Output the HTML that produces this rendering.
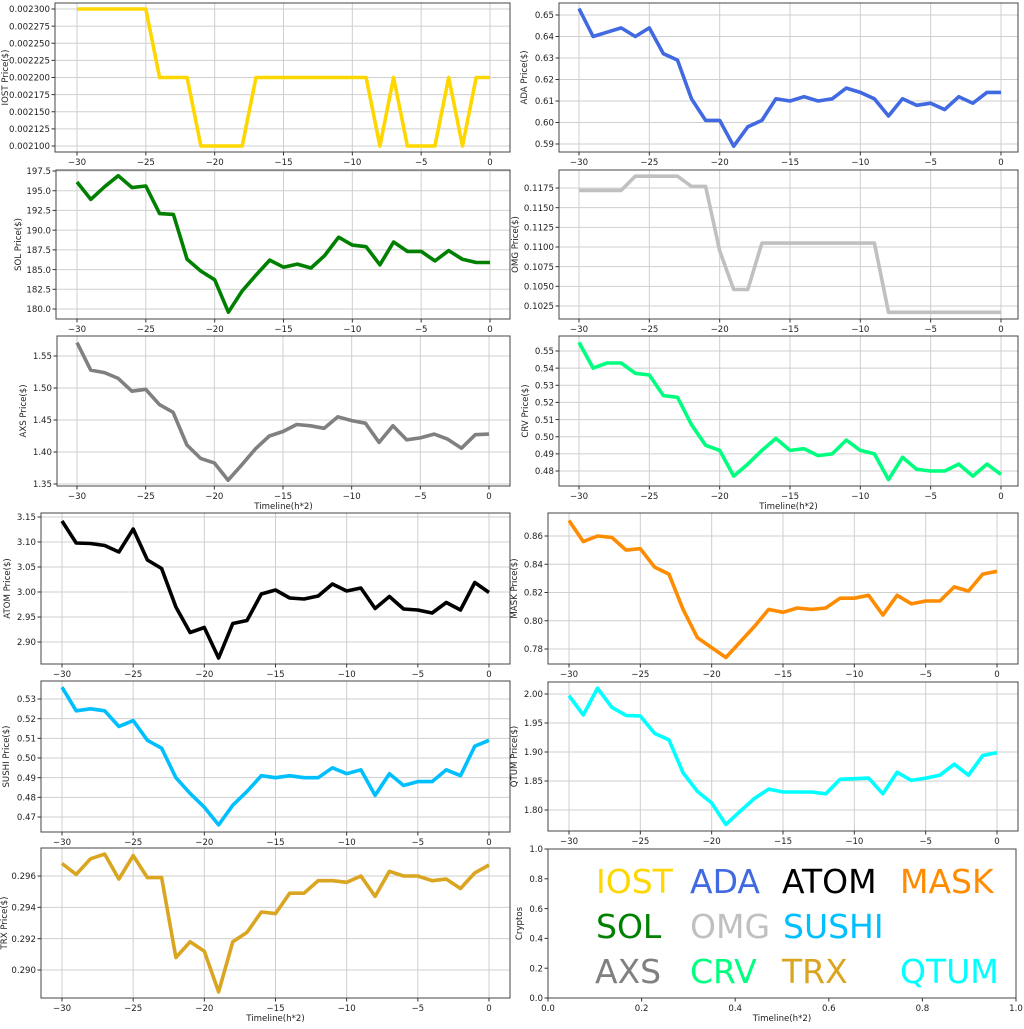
<!DOCTYPE html>
<html><head><meta charset="utf-8">
<style>
html,body{margin:0;padding:0;background:#fff;}
svg text{font-family:"DejaVu Sans","Liberation Sans",sans-serif;}
</style></head>
<body>
<svg id="s" width="1024" height="1024" xmlns="http://www.w3.org/2000/svg"></svg>
<script>
var FS=8.6;
var P=[
{n:'IOST',c:'#FFD700',L:55,R:510,T:3,B:152,x0:77,x1:490,v1:0.0023,p1:9,v2:0.0021,p2:146,ticks:[0.0021,0.002125,0.00215,0.002175,0.0022,0.002225,0.00225,0.002275,0.0023],fd:6,yl:'IOST Price($)',ylx:4,
d:[2300,2300,2300,2300,2300,2300,2200,2200,2200,2100,2100,2100,2100,2200,2200,2200,2200,2200,2200,2200,2200,2200,2100,2200,2100,2100,2100,2200,2100,2200,2200].map(function(v){return v/1e6})},
{n:'ADA',c:'#4169E1',L:559,R:1018,T:3,B:152,x0:579,x1:1001,v1:0.65,p1:15,v2:0.59,p2:144,ticks:[0.59,0.60,0.61,0.62,0.63,0.64,0.65],fd:2,yl:'ADA  Price($)',ylx:523,
d:[.653,.640,.642,.644,.640,.644,.632,.629,.611,.601,.601,.589,.598,.601,.611,.610,.612,.610,.611,.616,.614,.611,.603,.611,.608,.609,.606,.612,.609,.614,.614]},
{n:'SOL',c:'#008000',L:56,R:510,T:170,B:319,x0:77,x1:490,v1:197.5,p1:171,v2:180,p2:309,ticks:[180,182.5,185,187.5,190,192.5,195,197.5],fd:1,yl:'SOL Price($)',ylx:17,
d:[196.1,193.9,195.5,196.9,195.4,195.6,192.1,192.0,186.3,184.8,183.7,179.6,182.3,184.3,186.2,185.3,185.7,185.2,186.8,189.1,188.1,187.9,185.6,188.5,187.3,187.3,186.1,187.4,186.3,185.9,185.9]},
{n:'OMG',c:'#C0C0C0',L:559,R:1018,T:170,B:319,x0:579,x1:1001,v1:0.1175,p1:188,v2:0.1025,p2:306,ticks:[0.1025,0.105,0.1075,0.11,0.1125,0.115,0.1175],fd:4,yl:'OMG  Price($)',ylx:514,
d:[.1172,.1172,.1172,.1172,.1190,.1190,.1190,.1190,.1177,.1177,.1095,.1046,.1046,.1105,.1105,.1105,.1105,.1105,.1105,.1105,.1105,.1105,.1017,.1017,.1017,.1017,.1017,.1017,.1017,.1017,.1017]},
{n:'AXS',c:'#808080',L:57,R:510,T:336,B:486,x0:77,x1:489,v1:1.55,p1:356,v2:1.35,p2:484,ticks:[1.35,1.40,1.45,1.50,1.55],fd:2,yl:'AXS Price($)',ylx:22,xl:'Timeline(h*2)',
d:[1.571,1.528,1.524,1.515,1.495,1.498,1.474,1.462,1.411,1.390,1.383,1.356,1.380,1.405,1.425,1.432,1.443,1.441,1.437,1.455,1.449,1.445,1.415,1.441,1.419,1.422,1.428,1.420,1.406,1.427,1.428]},
{n:'CRV',c:'#00FF7F',L:559,R:1018,T:336,B:486,x0:579,x1:1001,v1:0.55,p1:351,v2:0.48,p2:471,ticks:[.48,.49,.50,.51,.52,.53,.54,.55],fd:2,yl:'CRV  Price($)',ylx:524,xl:'Timeline(h*2)',
d:[.555,.540,.543,.543,.537,.536,.524,.523,.507,.495,.492,.477,.484,.492,.499,.492,.493,.489,.490,.498,.492,.490,.475,.488,.481,.480,.480,.484,.477,.484,.478]},
{n:'ATOM',c:'#000000',L:41,R:510,T:513,B:664,x0:62,x1:489,v1:3.15,p1:517,v2:2.90,p2:642,ticks:[2.90,2.95,3.00,3.05,3.10,3.15],fd:2,yl:'ATOM  Price($)',ylx:6,
d:[3.142,3.098,3.097,3.093,3.080,3.126,3.064,3.047,2.970,2.919,2.929,2.868,2.937,2.943,2.996,3.004,2.988,2.986,2.992,3.016,3.002,3.008,2.967,2.991,2.966,2.964,2.958,2.979,2.964,3.019,2.999]},
{n:'MASK',c:'#FF8C00',L:548,R:1018,T:513,B:664,x0:569,x1:997,v1:0.86,p1:536,v2:0.78,p2:649,ticks:[.78,.80,.82,.84,.86],fd:2,yl:'MASK  Price($)',ylx:513,
d:[.871,.856,.860,.859,.850,.851,.838,.833,.808,.788,.781,.774,.785,.796,.808,.806,.809,.808,.809,.816,.816,.818,.804,.818,.812,.814,.814,.824,.821,.833,.835]},
{n:'SUSHI',c:'#00BFFF',L:41,R:510,T:681,B:832,x0:62,x1:489,v1:0.53,p1:699,v2:0.47,p2:817,ticks:[.47,.48,.49,.50,.51,.52,.53],fd:2,yl:'SUSHI  Price($)',ylx:5,
d:[.536,.524,.525,.524,.516,.519,.509,.505,.490,.482,.475,.466,.476,.483,.491,.490,.491,.490,.490,.495,.492,.494,.481,.492,.486,.488,.488,.494,.491,.506,.509]},
{n:'QTUM',c:'#00FFFF',L:548,R:1018,T:682,B:831,x0:569,x1:997,v1:2.00,p1:694,v2:1.80,p2:810,ticks:[1.80,1.85,1.90,1.95,2.00],fd:2,yl:'QTUM Price($)',ylx:513,
d:[1.997,1.964,2.010,1.977,1.963,1.962,1.932,1.921,1.864,1.832,1.812,1.775,1.798,1.820,1.836,1.831,1.831,1.831,1.828,1.853,1.854,1.855,1.828,1.865,1.851,1.855,1.860,1.879,1.860,1.894,1.899]},
{n:'TRX',c:'#DAA520',L:41,R:510,T:848,B:998,x0:62,x1:489,v1:0.296,p1:876,v2:0.290,p2:970,ticks:[.290,.292,.294,.296],fd:3,yl:'TRX Price($)',ylx:3,xl:'Timeline(h*2)',
d:[.2968,.2961,.2971,.2974,.2958,.2973,.2959,.2959,.2908,.2918,.2912,.2886,.2918,.2924,.2937,.2936,.2949,.2949,.2957,.2957,.2956,.2960,.2947,.2963,.2960,.2960,.2957,.2958,.2952,.2962,.2967]}
];
var h='';
function fy(p,v){return p.p1+(v-p.v1)*(p.p2-p.p1)/(p.v2-p.v1);}
function fx(p,t){return p.x0+(t+30)*(p.x1-p.x0)/30;}
P.forEach(function(p){
  var g='';
  for(var t=-30;t<=0;t+=5){var x=fx(p,t);g+='<line x1="'+x+'" y1="'+p.T+'" x2="'+x+'" y2="'+p.B+'" stroke="#cfcfcf" stroke-width="1"/>';
    g+='<line x1="'+x+'" y1="'+p.B+'" x2="'+x+'" y2="'+(p.B+3.5)+'" stroke="#333"/>';
    g+='<text x="'+x+'" y="'+(p.B+13)+'" font-size="'+FS+'" text-anchor="middle" fill="#222">'+(t<0?'\u2212'+(-t):'0')+'</text>';}
  p.ticks.forEach(function(v){var y=fy(p,v);g+='<line x1="'+p.L+'" y1="'+y+'" x2="'+p.R+'" y2="'+y+'" stroke="#cfcfcf" stroke-width="1"/>';
    g+='<line x1="'+(p.L-3.5)+'" y1="'+y+'" x2="'+p.L+'" y2="'+y+'" stroke="#333"/>';
    g+='<text x="'+(p.L-5)+'" y="'+(y+3.2)+'" font-size="'+FS+'" text-anchor="end" fill="#222">'+v.toFixed(p.fd)+'</text>';});
  var pts=p.d.map(function(v,i){return fx(p,i-30).toFixed(1)+','+fy(p,v).toFixed(1)}).join(' ');
  g+='<polyline points="'+pts+'" fill="none" stroke="'+p.c+'" stroke-width="3.6" stroke-linejoin="round"/>';
  g+='<rect x="'+p.L+'" y="'+p.T+'" width="'+(p.R-p.L)+'" height="'+(p.B-p.T)+'" fill="none" stroke="#444" stroke-width="1"/>';
  var cy=(p.T+p.B)/2;
  g+='<text transform="translate('+(p.ylx+4)+','+cy+') rotate(-90)" font-size="'+FS+'" text-anchor="middle" fill="#222">'+p.yl+'</text>';
  if(p.xl)g+='<text x="'+((p.L+p.R)/2)+'" y="'+(p.B+23)+'" font-size="'+FS+'" text-anchor="middle" fill="#222">'+p.xl+'</text>';
  h+=g;
});
var L=548,R=1016,T=849,B=998,g='';
for(var i=0;i<=5;i++){var v=i/5,x=L+v*(R-L),y=B-v*(B-T);
 g+='<line x1="'+x+'" y1="'+B+'" x2="'+x+'" y2="'+(B+3.5)+'" stroke="#333"/><text x="'+x+'" y="'+(B+13)+'" font-size="'+FS+'" text-anchor="middle" fill="#222">'+v.toFixed(1)+'</text>';
 g+='<line x1="'+(L-3.5)+'" y1="'+y+'" x2="'+L+'" y2="'+y+'" stroke="#333"/><text x="'+(L-5)+'" y="'+(y+3.2)+'" font-size="'+FS+'" text-anchor="end" fill="#222">'+v.toFixed(1)+'</text>';}
g+='<rect x="'+L+'" y="'+T+'" width="'+(R-L)+'" height="'+(B-T)+'" fill="none" stroke="#444"/>';
g+='<text transform="translate(522,'+((T+B)/2)+') rotate(-90)" font-size="'+FS+'" text-anchor="middle" fill="#222">Cryptos</text>';
g+='<text x="'+((L+R)/2)+'" y="'+(B+23)+'" font-size="'+FS+'" text-anchor="middle" fill="#222">Timeline(h*2)</text>';
var W=[['IOST','#FFD700',596,893],['ADA','#4169E1',690,893],['ATOM','#000000',782,893],['MASK','#FF8C00',900,893],
['SOL','#008000',596,938],['OMG','#C0C0C0',690,938],['SUSHI','#00BFFF',783,938],
['AXS','#808080',595,983],['CRV','#00FF7F',690,983],['TRX','#DAA520',782,983],['QTUM','#00FFFF',900,983]];
W.forEach(function(w){g+='<text x="'+w[2]+'" y="'+w[3]+'" font-size="33" fill="'+w[1]+'">'+w[0]+'</text>';});
h+=g;
document.getElementById('s').innerHTML=h;
</script>
</body></html>
